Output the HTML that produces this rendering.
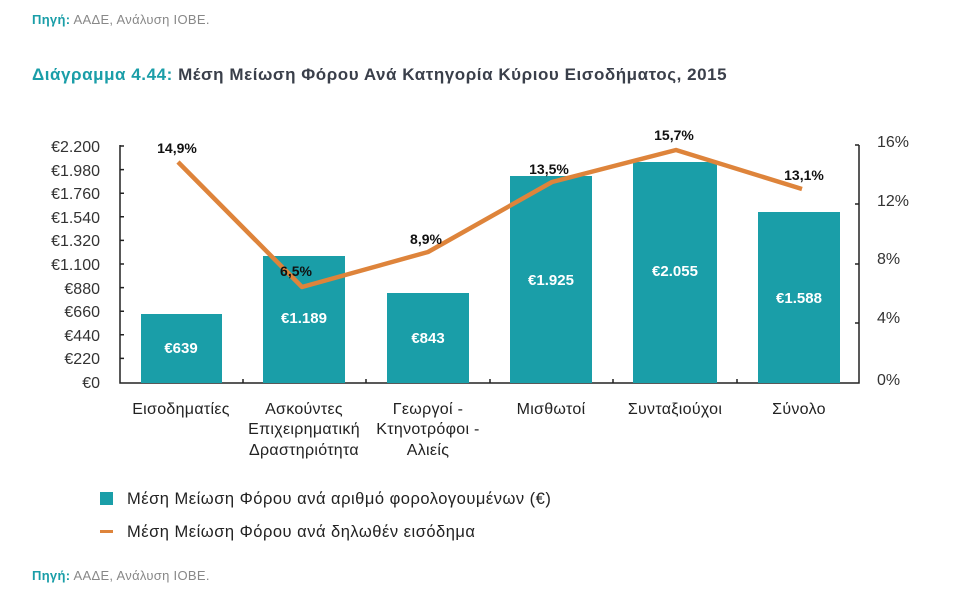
<!DOCTYPE html>
<html><head><meta charset="utf-8"><style>
body{margin:0;background:#fff;}
svg text{font-family:"Liberation Sans","DejaVu Sans",sans-serif;}
</style></head><body>
<svg width="960" height="600" viewBox="0 0 960 600" xmlns="http://www.w3.org/2000/svg">
<text x="32" y="24" font-size="13" letter-spacing="0.3" fill="#888"><tspan fill="#1a9ea8" font-weight="bold">Πηγή:</tspan> ΑΑΔΕ, Ανάλυση ΙΟΒΕ.</text>
<text x="32" y="80" font-size="17" letter-spacing="0.55" font-weight="bold" fill="#3a3f4a"><tspan fill="#1a9ea8">Διάγραμμα 4.44:</tspan> Μέση Μείωση Φόρου Ανά Κατηγορία Κύριου Εισοδήματος, 2015</text>
<g font-size="16" fill="#333" text-anchor="end">
<text x="100" y="152">€2.200</text><text x="100" y="176">€1.980</text><text x="100" y="199">€1.760</text><text x="100" y="223">€1.540</text><text x="100" y="246">€1.320</text><text x="100" y="270">€1.100</text><text x="100" y="294">€880</text><text x="100" y="317">€660</text><text x="100" y="341">€440</text><text x="100" y="364">€220</text><text x="100" y="388">€0</text>
</g>
<g font-size="16" fill="#333">
<text x="877" y="147">16%</text><text x="877" y="206">12%</text><text x="877" y="264">8%</text><text x="877" y="323">4%</text><text x="877" y="385">0%</text>
</g>
<g stroke="#222" stroke-width="1.5" fill="none">
<path d="M120 145V383H859V145"/>
<path d="M120 146h4M120 169.6h4M120 193.2h4M120 216.8h4M120 240.4h4M120 264h4M120 287.6h4M120 311.2h4M120 334.8h4M120 358.4h4"/>
<path d="M859 145h-4M859 204h-4M859 264h-4M859 323h-4"/>
<path d="M243 383v-4M366 383v-4M490 383v-4M613 383v-4M737 383v-4"/>
</g>
<g fill="#1a9ea8">
<rect x="141" y="314" width="81" height="69"/>
<rect x="263" y="256" width="82" height="127"/>
<rect x="387" y="293" width="82" height="90"/>
<rect x="510" y="176" width="82" height="207"/>
<rect x="633" y="162" width="84" height="221"/>
<rect x="758" y="212" width="82" height="171"/>
</g>
<g font-size="15" font-weight="bold" fill="#fff" text-anchor="middle">
<text x="181" y="353">€639</text><text x="304" y="323">€1.189</text><text x="428" y="343">€843</text><text x="551" y="285">€1.925</text><text x="675" y="276">€2.055</text><text x="799" y="303">€1.588</text>
</g>
<polyline points="178,162 302,287 428,252 552,182 676,150 802,189" fill="none" stroke="#de843b" stroke-width="4.5" stroke-linejoin="round"/>
<g font-size="14" font-weight="bold" fill="#111" text-anchor="middle">
<text x="177" y="153">14,9%</text><text x="296" y="276">6,5%</text><text x="426" y="244">8,9%</text><text x="549" y="174">13,5%</text><text x="674" y="140">15,7%</text><text x="804" y="180">13,1%</text>
</g>
<g font-size="16" letter-spacing="0.3" fill="#222" text-anchor="middle">
<text x="181" y="414">Εισοδηματίες</text>
<text x="304" y="414">Ασκούντες</text><text x="304" y="434">Επιχειρηματική</text><text x="304" y="455">Δραστηριότητα</text>
<text x="428" y="414">Γεωργοί -</text><text x="428" y="434">Κτηνοτρόφοι -</text><text x="428" y="455">Αλιείς</text>
<text x="551" y="414">Μισθωτοί</text><text x="675" y="414">Συνταξιούχοι</text><text x="799" y="414">Σύνολο</text>
</g>
<rect x="100" y="492" width="13" height="13" fill="#1a9ea8"/>
<rect x="100" y="530" width="13" height="3" fill="#de843b"/>
<g font-size="16.5" letter-spacing="0.5" fill="#222">
<text x="127" y="504">Μέση Μείωση Φόρου  ανά αριθμό φορολογουμένων (€)</text>
<text x="127" y="537">Μέση Μείωση Φόρου  ανά δηλωθέν εισόδημα</text>
</g>
<text x="32" y="580" font-size="13" letter-spacing="0.3" fill="#888"><tspan fill="#1a9ea8" font-weight="bold">Πηγή:</tspan> ΑΑΔΕ, Ανάλυση ΙΟΒΕ.</text>
</svg>
</body></html>
